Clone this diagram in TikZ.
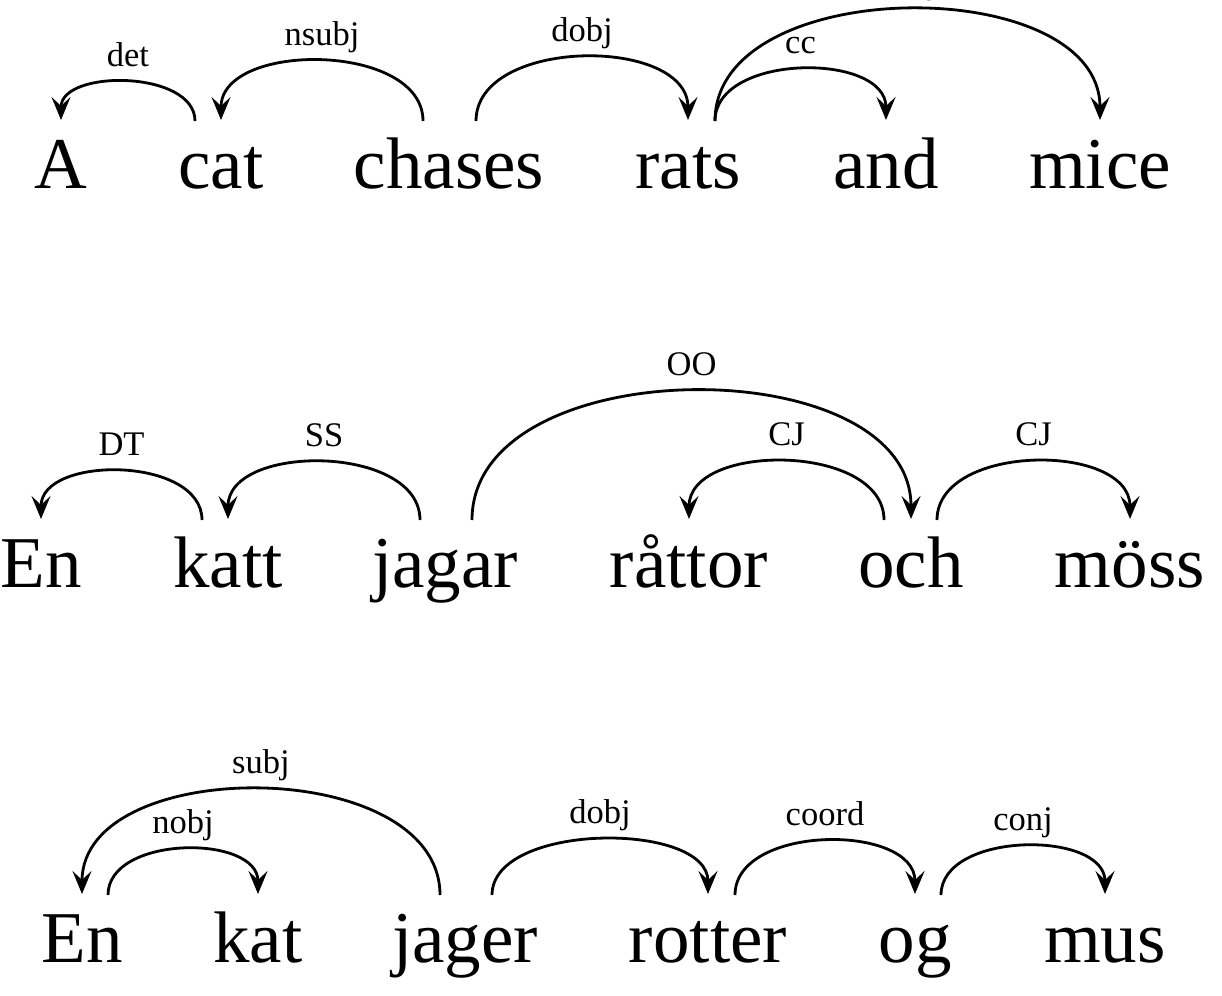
\documentclass[tikz,border=0pt]{standalone}
\usepackage{fontspec}
\setmainfont{Liberation Serif}
\usetikzlibrary{arrows.meta}
% #1 from node, #2 x offset at start, #3 to node, #4 control height, #5 label text, #6 label name
\newcommand\deparc[6]{%
  \draw[dep] ([shift={(#2,-67)}]#1.base) .. controls +(0,-#4) and +(0,-#4) .. ([shift={(0,-68)}]#3.base)
    node[lab,pos=0.5,yshift=16pt] (#6) {#5};}
\begin{document}
\begin{tikzpicture}[x=1pt,y=-1pt,
  word/.style={anchor=base,inner sep=0pt,font=\fontsize{73}{80}\selectfont},
  lab/.style={anchor=base,inner sep=0pt,font=\fontsize{34.5}{38}\selectfont},
  dep/.style={line width=2.8pt,-{Stealth[length=23pt,width=19pt,inset=9pt]}}]
\useasboundingbox (0,0) rectangle (1222,995);
% row 1
\node[word] (a1) at (61,188) {A};
\node[word] (a2) at (221,188) {cat};
\node[word] (a3) at (449,188) {chases};
\node[word] (a4) at (688,188) {rats};
\node[word] (a5) at (886,188) {and};
\node[word] (a6) at (1100,188) {mice};
\deparc{a2}{-26}{a1}{51}{det}{la1}
\deparc{a3}{-26}{a2}{79}{nsubj}{la2}
\deparc{a3}{27}{a4}{84}{dobj}{la3}
\deparc{a4}{27}{a5}{68}{cc}{la4}
\deparc{a4}{27}{a6}{148}{conj}{la5}
% row 2
\node[word] (b1) at (41,587) {En};
\node[word] (b2) at (228,587) {katt};
\node[word] (b3) at (445,587) {jagar};
\node[word] (b4) at (689,587) {råttor};
\node[word] (b5) at (911,587) {och};
\node[word] (b6) at (1130,587) {möss};
\deparc{b2}{-26}{b1}{64}{DT}{lb1}
\deparc{b3}{-25}{b2}{76}{SS}{lb2}
\deparc{b3}{27}{b5}{171}{OO}{lb3}
\deparc{b5}{-27}{b4}{77}{CJ}{lb4}
\deparc{b5}{26}{b6}{77}{CJ}{lb5}
% row 3
\node[word] (c1) at (82,962) {En};
\node[word] (c2) at (258,962) {kat};
\node[word] (c3) at (465,962) {jager};
\node[word] (c4) at (708,962) {rotter};
\node[word] (c5) at (915,962) {og};
\node[word] (c6) at (1105,962) {mus};
\deparc{c3}{-25}{c1}{140}{subj}{lc1}
\deparc{c1}{26}{c2}{60}{nobj}{lc2}
\deparc{c3}{27}{c4}{73}{dobj}{lc3}
\deparc{c4}{27}{c5}{71}{coord}{lc4}
\deparc{c5}{26}{c6}{64}{conj}{lc5}
\end{tikzpicture}
\end{document}
